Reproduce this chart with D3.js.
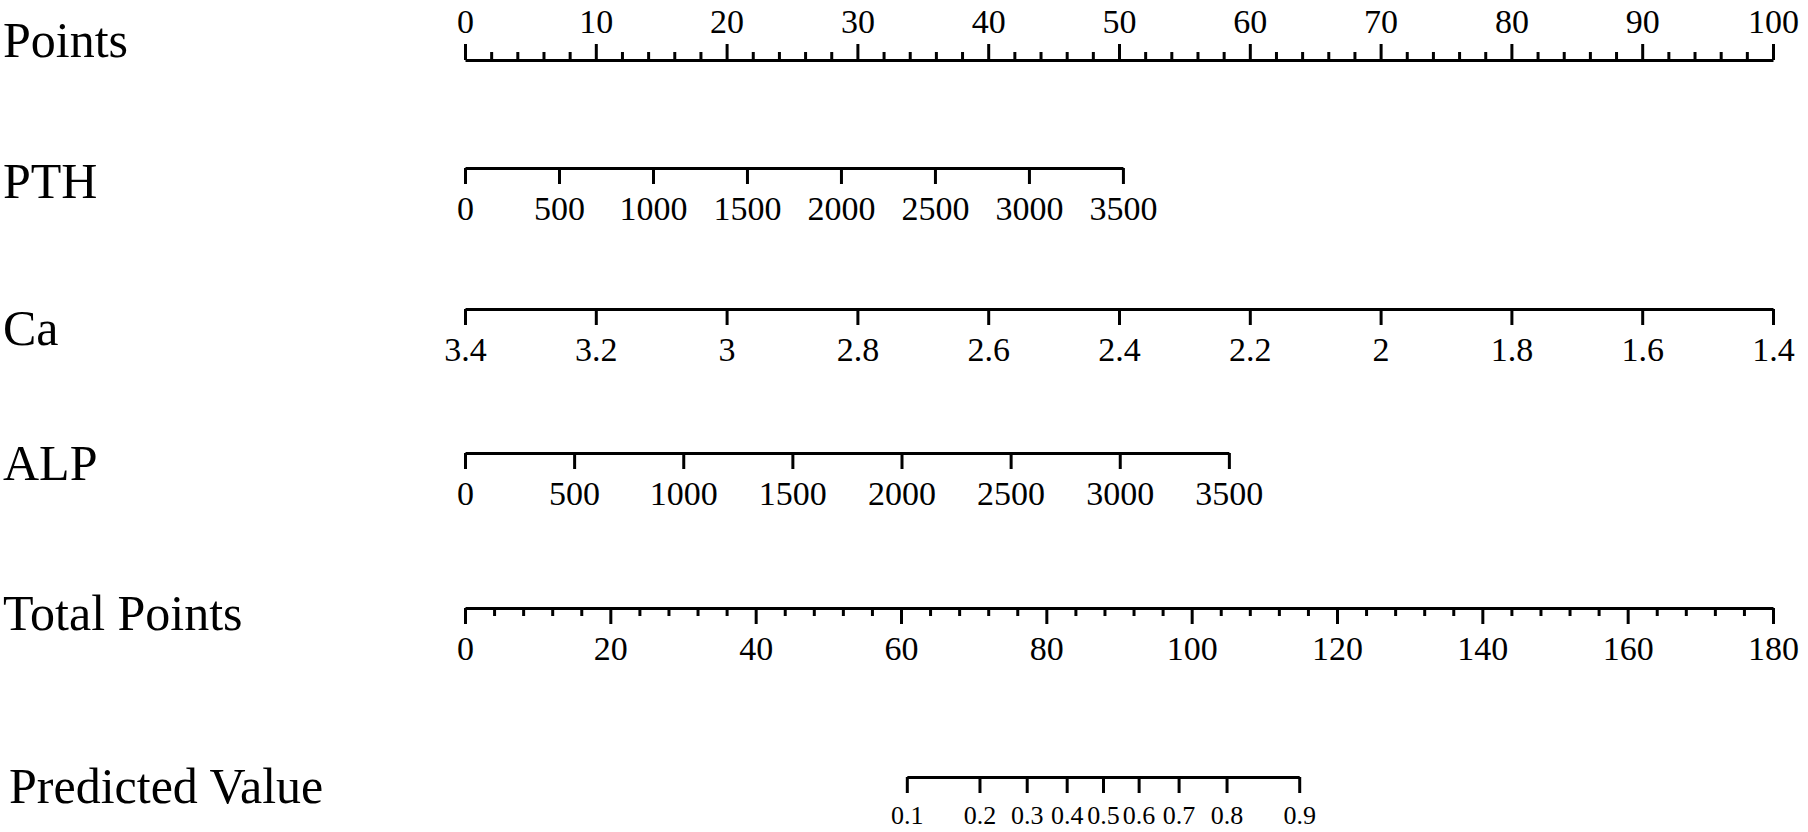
<!DOCTYPE html>
<html>
<head>
<meta charset="utf-8">
<script src="https://cdn.jsdelivr.net/npm/d3@7/dist/d3.min.js"></script>
<style>
    body { margin: 0; background: #fff; }
    text { font-family: "Liberation Serif", "Times New Roman", serif; fill: #000; }
    .axis path, .axis line { stroke: #000; stroke-width: 3; }
    .axis text { font-size: 34px; }
    .pred text { font-size: 26px; }
</style>
</head>
<body>
<svg id="chart" width="1808" height="832"></svg>
<script>
var rowLabels = ["Points", "PTH", "Ca", "ALP", "Total Points", "Predicted Value"];

var pointsTicks = [0, 10, 20, 30, 40, 50, 60, 70, 80, 90, 100];
var pointsMinor = [2, 4, 6, 8, 12, 14, 16, 18, 22, 24, 26, 28, 32, 34, 36, 38, 42, 44, 46, 48,
                   52, 54, 56, 58, 62, 64, 66, 68, 72, 74, 76, 78, 82, 84, 86, 88, 92, 94, 96, 98];

var pthTicks = [0, 500, 1000, 1500, 2000, 2500, 3000, 3500];
var pthMaxPoints = 50.3;      // points reached at PTH = 3500

var caTicks = [3.4, 3.2, 3, 2.8, 2.6, 2.4, 2.2, 2, 1.8, 1.6, 1.4];
var caTickLabels = ["3.4", "3.2", "3", "2.8", "2.6", "2.4", "2.2", "2", "1.8", "1.6", "1.4"];

var alpTicks = [0, 500, 1000, 1500, 2000, 2500, 3000, 3500];
var alpMaxPoints = 58.4;      // points reached at ALP = 3500

var totalTicks = [0, 20, 40, 60, 80, 100, 120, 140, 160, 180];
var totalMinor = [4, 8, 12, 16, 24, 28, 32, 36, 44, 48, 52, 56, 64, 68, 72, 76, 84, 88, 92, 96,
                  104, 108, 112, 116, 124, 128, 132, 136, 144, 148, 152, 156, 164, 168, 172, 176];

var predValues = [0.1, 0.2, 0.3, 0.4, 0.5, 0.6, 0.7, 0.8, 0.9];
var predTotalPoints = [60.8, 70.8, 77.3, 82.8, 87.8, 92.7, 98.2, 104.8, 114.8];

var svg = d3.select("#chart");

var left = 465, right = 1773;
var rowY = [60, 168, 309, 453, 608, 777];          // axis line of each row
var labelY = [57, 198, 345, 480, 630, 803];        // baseline of row names
var labelX = [3, 3, 3, 3, 3, 9];

var pointsX = d3.scaleLinear().domain([0, 100]).range([left, right]);
var totalX = d3.scaleLinear().domain([0, 180]).range([left, right]);
var pthX = d3.scaleLinear().domain([0, 3500]).range([pointsX(0), pointsX(pthMaxPoints)]);
var caX = d3.scaleLinear().domain([3.4, 1.4]).range([left, right]);
var alpX = d3.scaleLinear().domain([0, 3500]).range([pointsX(0), pointsX(alpMaxPoints)]);
var predX = d3.scaleLinear().domain(predValues).range(predTotalPoints.map(totalX));

// row names
svg.selectAll("text.row")
    .data(rowLabels)
    .enter()
    .append("text")
        .attr("class", "row")
        .attr("x", function (d, i) { return labelX[i]; })
        .attr("y", function (d, i) { return labelY[i]; })
        .style("font-size", "50px")
        .text(function (d) { return d; });

function addAxis(axis, y, cls) {
    var g = svg.append("g")
        .attr("class", "axis " + (cls || ""))
        .attr("transform", "translate(0," + y + ")")
        .call(axis);
    g.selectAll("text").attr("fill", "#000");
    return g;
}

// Points (ticks upward)
addAxis(d3.axisTop(pointsX).tickValues(pointsMinor).tickSize(8).tickSizeOuter(0).tickFormat(""), rowY[0])
    .select(".domain").remove();
addAxis(d3.axisTop(pointsX).tickValues(pointsTicks).tickSize(16).tickSizeOuter(0).tickPadding(11)
    .tickFormat(d3.format("d")), rowY[0]);

// PTH
addAxis(d3.axisBottom(pthX).tickValues(pthTicks).tickSize(16).tickSizeOuter(0).tickPadding(12)
    .tickFormat(d3.format("d")), rowY[1]);

// Ca
addAxis(d3.axisBottom(caX).tickValues(caTicks).tickSize(16).tickSizeOuter(0).tickPadding(12)
    .tickFormat(function (d, i) { return caTickLabels[i]; }), rowY[2]);

// ALP
addAxis(d3.axisBottom(alpX).tickValues(alpTicks).tickSize(16).tickSizeOuter(0).tickPadding(12)
    .tickFormat(d3.format("d")), rowY[3]);

// Total Points
addAxis(d3.axisBottom(totalX).tickValues(totalMinor).tickSize(8).tickSizeOuter(0).tickFormat(""), rowY[4])
    .select(".domain").remove();
addAxis(d3.axisBottom(totalX).tickValues(totalTicks).tickSize(16).tickSizeOuter(0).tickPadding(12)
    .tickFormat(d3.format("d")), rowY[4]);

// Predicted Value
addAxis(d3.axisBottom(predX).tickValues(predValues).tickSize(16).tickSizeOuter(0).tickPadding(13)
    .tickFormat(d3.format(".1f")), rowY[5], "pred");
</script>
</body>
</html>
